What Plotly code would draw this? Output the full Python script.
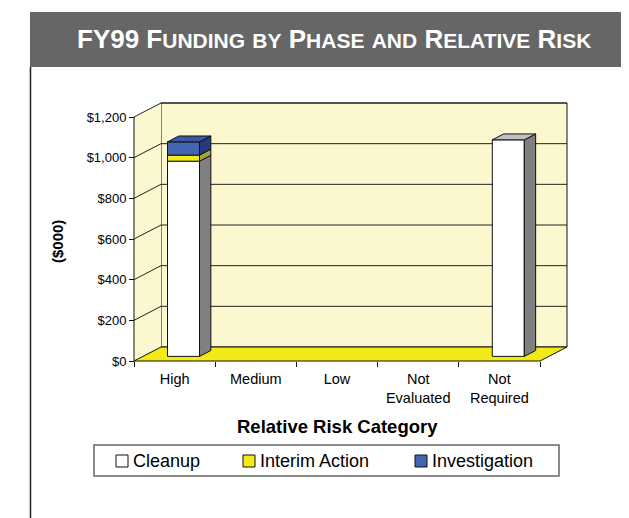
import plotly.graph_objects as go

# ---------------- data ----------------
categories = ["High", "Medium", "Low", "Not<br>Evaluated", "Not<br>Required"]
series_names = ["Cleanup", "Interim Action", "Investigation"]
cleanup = [960, 0, 0, 0, 1065]
interim_action = [30, 0, 0, 0, 0]
investigation = [65, 0, 0, 0, 0]
y_ticks = [0, 200, 400, 600, 800, 1000, 1200]

title_text = "FY99 Funding by Phase and Relative Risk"
x_title = "Relative Risk Category"
y_title = "($000)"

series_values = [cleanup, interim_action, investigation]
front_colors = ["#FFFFFF", "#F3EA17", "#4565B1"]
side_colors = ["#808080", "#A3A33A", "#26397A"]
top_colors = ["#C0C0C0", "#CFC510", "#3A58A8"]

# ---------------- layout geometry (pixels) ----------------
W, H = 629, 518
FRONT_L, FRONT_R = 126, 532
FRONT_B, FRONT_T = 353, 109
DEPTH_PX_X, DEPTH_PX_Y = 27, 14
PAD = 3
Y_MAX = y_ticks[-1]

n = len(categories)
px_cat = (FRONT_R - FRONT_L) / n
px_usd = (FRONT_B - FRONT_T) / Y_MAX
DX = DEPTH_PX_X / px_cat
DY = DEPTH_PX_Y / px_usd

plot_l = FRONT_L - PAD
plot_r = FRONT_R + DEPTH_PX_X + PAD
plot_t = FRONT_T - DEPTH_PX_Y - PAD
plot_b = FRONT_B + PAD
pw = plot_r - plot_l
ph = plot_b - plot_t


def pxx(px):
    return (px - plot_l) / pw


def pxy(py):
    return (plot_b - py) / ph


x_lo = -0.5 - PAD / px_cat
x_hi = n - 0.5 + DX + PAD / px_cat
y_lo = -PAD / px_usd
y_hi = Y_MAX + DY + PAD / px_usd

BAR_HALF = 16 / px_cat
BAR_Z = 0.33
BAR_D = 0.42

FONT = "Arial, Liberation Sans, sans-serif"
WALL = "#FBF8CF"
FLOOR = "#F2EA16"

fig = go.Figure()


def path(pts):
    return "M " + " L ".join(f"{x},{y}" for x, y in pts) + " Z"


xl, xr = -0.5, n - 0.5
shapes = []
# back wall
shapes.append(dict(type="path", xref="x", yref="y", layer="below",
                   path=path([(xl + DX, DY), (xr + DX, DY), (xr + DX, Y_MAX + DY), (xl + DX, Y_MAX + DY)]),
                   fillcolor=WALL, line=dict(color="#111", width=1)))
# side wall
shapes.append(dict(type="path", xref="x", yref="y", layer="below",
                   path=path([(xl, 0), (xl + DX, DY), (xl + DX, Y_MAX + DY), (xl, Y_MAX)]),
                   fillcolor=WALL, line=dict(color="rgba(0,0,0,0)", width=0)))
# gridlines
for v in y_ticks[1:]:
    shapes.append(dict(type="line", xref="x", yref="y", layer="below",
                       x0=xl + DX, y0=v + DY, x1=xr + DX, y1=v + DY,
                       line=dict(color="#222", width=1)))
    shapes.append(dict(type="line", xref="x", yref="y", layer="below",
                       x0=xl, y0=v, x1=xl + DX, y1=v + DY,
                       line=dict(color="#222", width=1)))
# floor
shapes.append(dict(type="path", xref="x", yref="y", layer="below",
                   path=path([(xl, 0), (xr, 0), (xr + DX, DY), (xl + DX, DY)]),
                   fillcolor=FLOOR, line=dict(color="#111", width=1)))
# front value axis line
shapes.append(dict(type="line", xref="x", yref="y", layer="below",
                   x0=xl, y0=0, x1=xl, y1=Y_MAX, line=dict(color="#111", width=1)))

# ---------------- bars ----------------
cum = [0] * n
for s, vals in enumerate(series_values):
    base = [cum[i] + BAR_Z * DY for i in range(n)]
    fig.add_trace(go.Bar(
        x=list(range(n)), y=[v if v else None for v in vals], base=base,
        offset=-BAR_HALF + BAR_Z * DX, width=2 * BAR_HALF,
        marker=dict(color=front_colors[s], line=dict(color="#111", width=1)),
        name=series_names[s], showlegend=False, hoverinfo="skip"))
    for i, v in enumerate(vals):
        if not v:
            continue
        b = cum[i] + BAR_Z * DY
        t = b + v
        x0 = i - BAR_HALF + BAR_Z * DX
        x1 = i + BAR_HALF + BAR_Z * DX
        sx = [x1, x1 + BAR_D * DX, x1 + BAR_D * DX, x1, x1]
        sy = [b, b + BAR_D * DY, t + BAR_D * DY, t, b]
        fig.add_trace(go.Scatter(x=sx, y=sy, mode="lines", fill="toself",
                                 fillcolor=side_colors[s], line=dict(color="#111", width=1),
                                 showlegend=False, hoverinfo="skip"))
        is_top = all(not series_values[k][i] for k in range(s + 1, len(series_values)))
        if is_top:
            tx = [x0, x1, x1 + BAR_D * DX, x0 + BAR_D * DX, x0]
            ty = [t, t, t + BAR_D * DY, t + BAR_D * DY, t]
            fig.add_trace(go.Scatter(x=tx, y=ty, mode="lines", fill="toself",
                                     fillcolor=top_colors[s], line=dict(color="#111", width=1),
                                     showlegend=False, hoverinfo="skip"))
    cum = [cum[i] + vals[i] for i in range(n)]

# ---------------- frame / header ----------------
shapes.append(dict(type="rect", xref="paper", yref="paper",
                   x0=pxx(22), x1=pxx(629), y0=pxy(59), y1=pxy(4),
                   fillcolor="#666666", line=dict(width=0)))
for bx in (22.5, 628):
    shapes.append(dict(type="line", xref="paper", yref="paper",
                       x0=pxx(bx), x1=pxx(bx), y0=pxy(59), y1=pxy(518),
                       line=dict(color="#222", width=1.5)))

# ---------------- legend (manual) ----------------
LEG_BOX = (86, 551, 437, 468)
LEG_MARK_X = [108, 235, 407]
LEG_Y = 453
MS = 12
shapes.append(dict(type="rect", xref="paper", yref="paper",
                   x0=pxx(LEG_BOX[0]), x1=pxx(LEG_BOX[1]), y0=pxy(LEG_BOX[3]), y1=pxy(LEG_BOX[2]),
                   line=dict(color="#666", width=1.5)))
annotations = []
for s, name in enumerate(series_names):
    mx = LEG_MARK_X[s]
    shapes.append(dict(type="rect", xref="paper", yref="paper",
                       x0=pxx(mx), x1=pxx(mx + MS), y0=pxy(LEG_Y + MS / 2), y1=pxy(LEG_Y - MS / 2),
                       fillcolor=front_colors[s], line=dict(color="#111", width=1)))
    annotations.append(dict(xref="paper", yref="paper", x=pxx(mx + MS + 3), y=pxy(LEG_Y),
                            xanchor="left", yanchor="middle", showarrow=False, text=name,
                            font=dict(family=FONT, size=18, color="#000")))


def small_caps(txt, small):
    out, buf = [], ""
    for ch in txt:
        if ch.islower():
            buf += ch.upper()
        else:
            if buf:
                out.append(f"<span style='font-size:{small}px'>{buf}</span>")
                buf = ""
            out.append(ch)
    if buf:
        out.append(f"<span style='font-size:{small}px'>{buf}</span>")
    return "<b>" + "".join(out) + "</b>"


annotations.append(dict(xref="paper", yref="paper", x=pxx(326), y=pxy(31.5),
                        xanchor="center", yanchor="middle", showarrow=False,
                        text=small_caps(title_text, 21),
                        font=dict(family=FONT, size=26, color="#FFFFFF")))
annotations.append(dict(xref="paper", yref="paper", x=pxx(329), y=pxy(418),
                        xanchor="center", yanchor="middle", showarrow=False,
                        text=f"<b>{x_title}</b>", font=dict(family=FONT, size=18.5, color="#000")))
annotations.append(dict(xref="paper", yref="paper", x=pxx(49), y=pxy(234),
                        xanchor="center", yanchor="middle", showarrow=False, textangle=-90,
                        text=f"<b>{y_title}</b>", font=dict(family=FONT, size=15, color="#000")))

fig.update_layout(
    width=W, height=H,
    margin=dict(l=plot_l, r=W - plot_r, t=plot_t, b=H - plot_b, pad=0),
    paper_bgcolor="white", plot_bgcolor="rgba(0,0,0,0)",
    barmode="overlay", showlegend=False,
    shapes=shapes, annotations=annotations,
    font=dict(family=FONT, color="#000"),
    xaxis=dict(range=[x_lo, x_hi], anchor="free", position=PAD / ph,
               tickmode="array", tickvals=list(range(n)), ticktext=categories,
               ticks="outside", ticklen=5, tickcolor="rgba(0,0,0,0)",
               minor=dict(tickmode="array", tickvals=[i - 0.5 for i in range(n + 1)],
                          ticks="outside", ticklen=5, tickcolor="#111", tickwidth=1),
               tickfont=dict(family=FONT, size=14.5, color="#000"),
               showgrid=False, zeroline=False, showline=False, fixedrange=True),
    yaxis=dict(range=[y_lo, y_hi], anchor="free", position=PAD / pw,
               tickmode="array", tickvals=y_ticks, tickformat="$,.0f",
               ticks="outside", ticklen=5, tickcolor="#111", tickwidth=1,
               tickfont=dict(family=FONT, size=13, color="#000"),
               showgrid=False, zeroline=False, showline=False, fixedrange=True),
)

fig.write_html("out.html")
